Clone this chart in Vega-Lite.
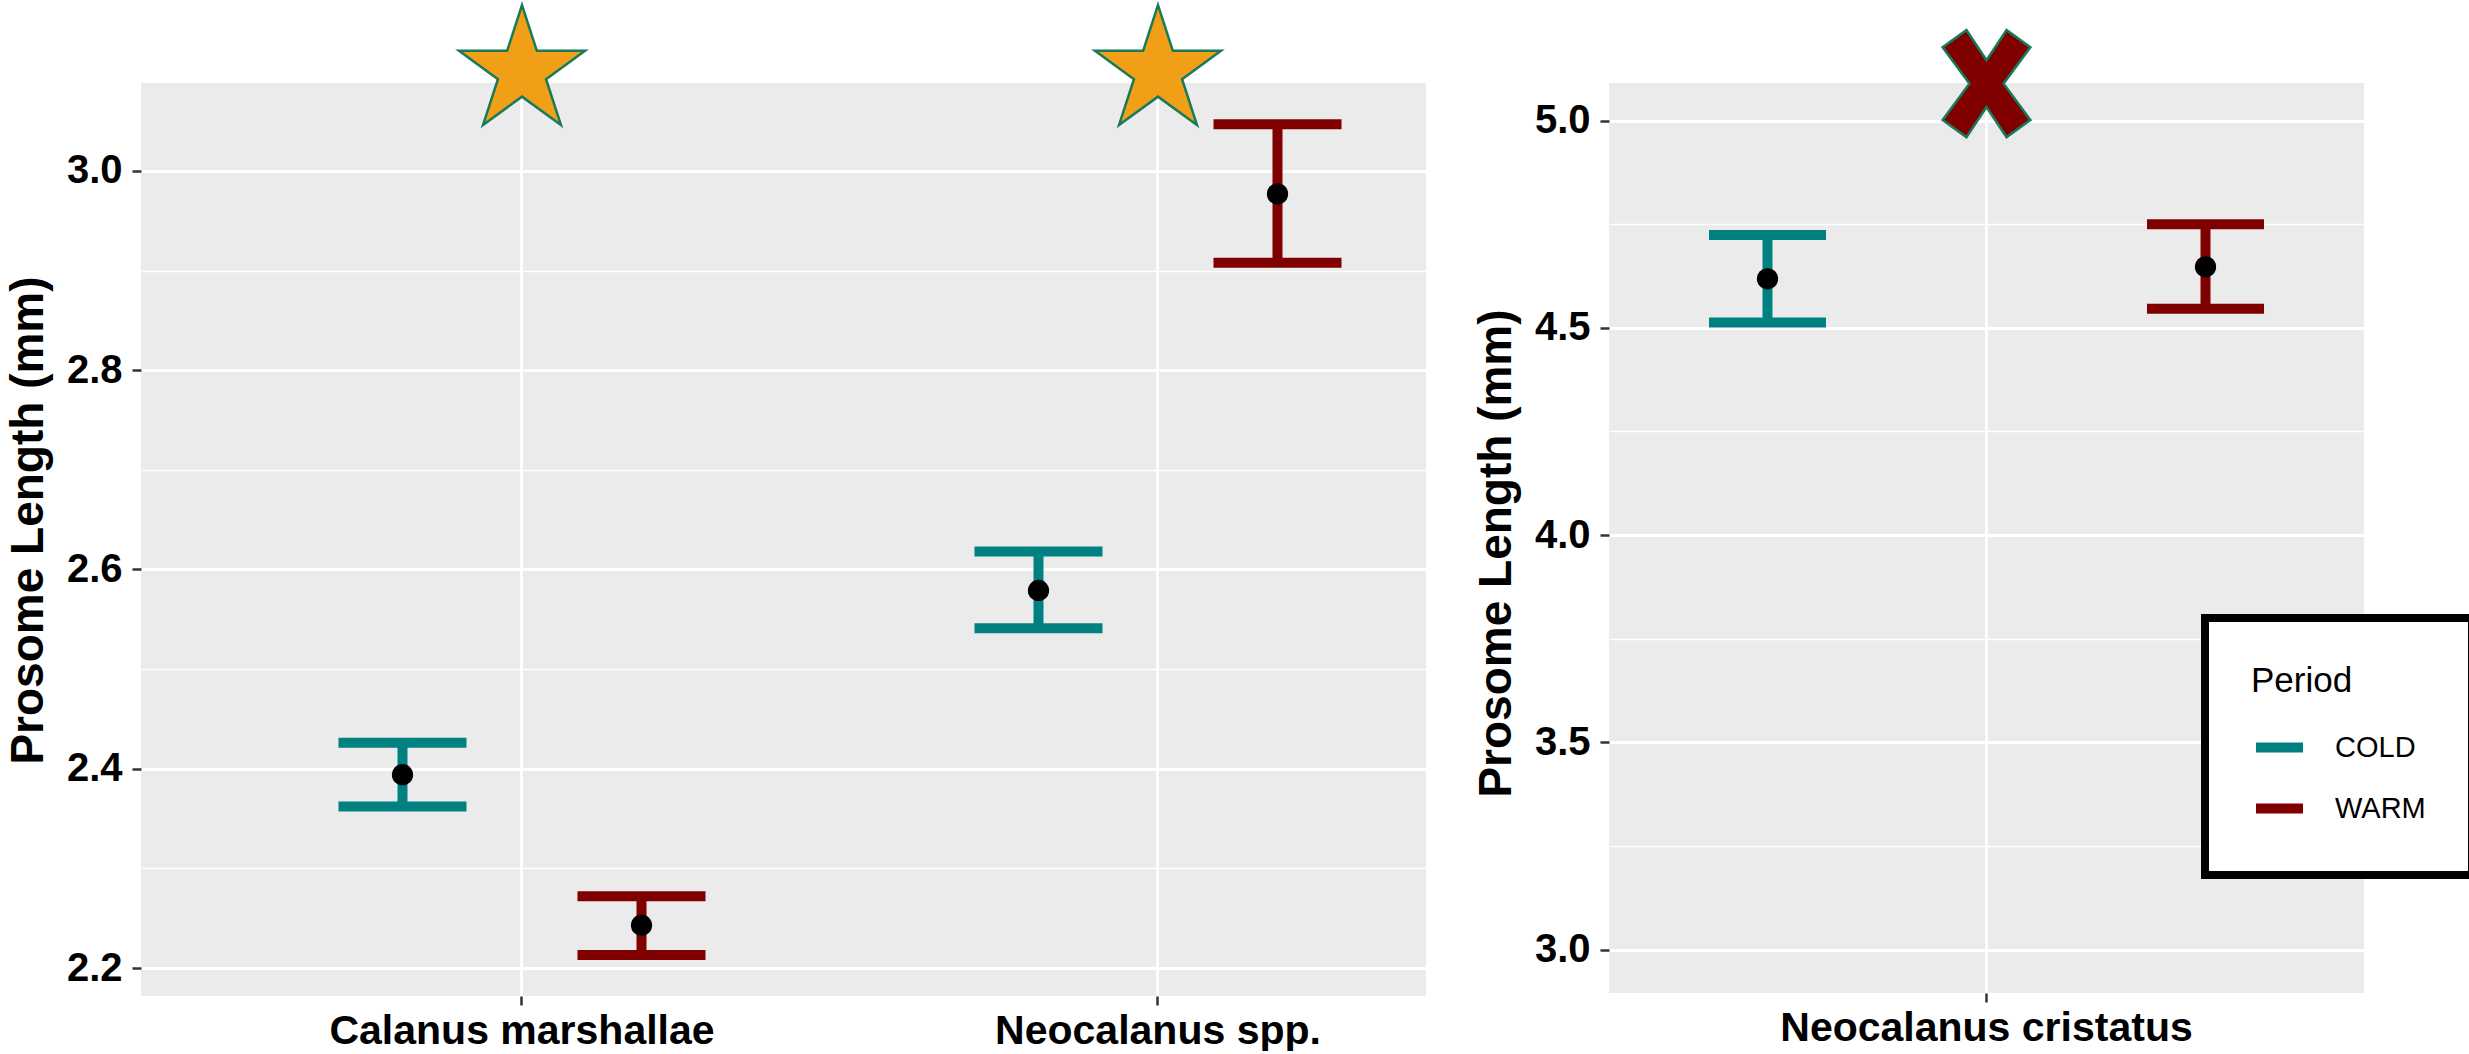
{
  "$schema": "https://vega.github.io/schema/vega-lite/v6.json",
  "padding": {"left": 5, "top": 0, "right": 0, "bottom": 0},
  "background": "white",
  "spacing": 47,
  "datasets": {
    "left": [
      {"species": "Calanus marshallae", "period": "COLD", "mean": 2.394, "lower": 2.362, "upper": 2.426},
      {"species": "Calanus marshallae", "period": "WARM", "mean": 2.243, "lower": 2.213, "upper": 2.272},
      {"species": "Neocalanus spp.", "period": "COLD", "mean": 2.579, "lower": 2.541, "upper": 2.618},
      {"species": "Neocalanus spp.", "period": "WARM", "mean": 2.977, "lower": 2.908, "upper": 3.047}
    ],
    "right": [
      {"species": "Neocalanus cristatus", "period": "COLD", "mean": 4.618, "lower": 4.513, "upper": 4.724},
      {"species": "Neocalanus cristatus", "period": "WARM", "mean": 4.647, "lower": 4.546, "upper": 4.75}
    ],
    "sigLeft": [
      {"species": "Calanus marshallae", "y": 3.1},
      {"species": "Neocalanus spp.", "y": 3.1}
    ],
    "sigRight": [
      {"species": "Neocalanus cristatus", "y": 5.089}
    ]
  },
  "config": {
    "view": {"fill": "#EBEBEB", "stroke": null},
    "axis": {
      "labelFont": "Liberation Sans", "labelFontWeight": "bold", "labelFontSize": 40, "labelColor": "black",
      "titleFont": "Liberation Sans", "titleFontWeight": "bold", "titleFontSize": 46, "titleColor": "black",
      "domain": false, "tickColor": "#333333", "tickWidth": 2.5, "tickSize": 9,
      "gridColor": "white", "gridWidth": 2.8, "gridOpacity": 1,
      "labelFlush": false, "labelOverlap": false, "labelBound": false, "labelLimit": 1000
    },
    "legend": {
      "titleFont": "Liberation Sans", "titleFontSize": 35, "titleFontWeight": "normal", "titleColor": "black",
      "labelFont": "Liberation Sans", "labelFontSize": 29, "labelColor": "black",
      "symbolType": "stroke", "symbolStrokeWidth": 10, "symbolSize": 2209, "symbolOpacity": 1,
      "labelOffset": 27, "padding": 46, "strokeColor": "black", "fillColor": "white",
      "titlePadding": 20, "rowPadding": 12
    }
  },
  "resolve": {"scale": {"color": "independent", "xOffset": "independent"}, "legend": {"color": "independent"}},
  "hconcat": [
    {
      "width": 1285,
      "height": 913,
      "encoding": {
        "x": {
          "field": "species", "type": "nominal",
          "sort": ["Calanus marshallae", "Neocalanus spp."],
          "scale": {"domain": ["Calanus marshallae", "Neocalanus spp."], "paddingInner": 0.24843, "paddingOuter": 0.134435, "align": 0.8304},
          "axis": {"title": null, "labelAngle": 0, "grid": true, "bandPosition": 0.5, "labelPadding": 6, "labelFontSize": 41}
        }
      },
      "layer": [
        {
          "data": {"name": "left"},
          "mark": {"type": "rule", "strokeWidth": 10},
          "encoding": {
            "xOffset": {"field": "period", "type": "nominal", "scale": {"domain": ["COLD", "WARM"], "paddingInner": 0, "paddingOuter": 0}},
            "y": {
              "field": "lower", "type": "quantitative",
              "scale": {"domain": [2.1719, 3.0883], "nice": false, "zero": false},
              "axis": {"title": "Prosome Length (mm)", "values": [2.2, 2.4, 2.6, 2.8, 3.0], "format": ".1f", "grid": true, "titlePadding": 14, "labelPadding": 10, "titleY": 437}
            },
            "y2": {"field": "upper"},
            "color": {"field": "period", "type": "nominal", "scale": {"domain": ["COLD", "WARM"], "range": ["#008080", "#800000"]}, "legend": null}
          }
        },
        {
          "data": {"name": "left"},
          "mark": {"type": "tick", "thickness": 10, "size": 128, "opacity": 1},
          "encoding": {
            "xOffset": {"field": "period", "type": "nominal", "scale": {"domain": ["COLD", "WARM"], "paddingInner": 0, "paddingOuter": 0}},
            "y": {"field": "upper", "type": "quantitative", "axis": null},
            "color": {"field": "period", "type": "nominal", "scale": {"domain": ["COLD", "WARM"], "range": ["#008080", "#800000"]}, "legend": null}
          }
        },
        {
          "data": {"name": "left"},
          "mark": {"type": "tick", "thickness": 10, "size": 128, "opacity": 1},
          "encoding": {
            "xOffset": {"field": "period", "type": "nominal", "scale": {"domain": ["COLD", "WARM"], "paddingInner": 0, "paddingOuter": 0}},
            "y": {"field": "lower", "type": "quantitative", "axis": {"orient": "right", "values": [2.3, 2.5, 2.7, 2.9], "labels": false, "ticks": false, "domain": false, "title": null, "grid": true, "gridWidth": 1.5}},
            "color": {"field": "period", "type": "nominal", "scale": {"domain": ["COLD", "WARM"], "range": ["#008080", "#800000"]}, "legend": null}
          }
        },
        {
          "data": {"name": "left"},
          "mark": {"type": "circle", "color": "black", "size": 452, "opacity": 1},
          "encoding": {
            "xOffset": {"field": "period", "type": "nominal", "scale": {"domain": ["COLD", "WARM"], "paddingInner": 0, "paddingOuter": 0}},
            "y": {"field": "mean", "type": "quantitative", "axis": null}
          }
        },
        {
          "data": {"name": "sigLeft"},
          "mark": {
            "type": "point", "filled": true, "opacity": 1, "size": 15876,
            "shape": "M0,-1.0515L0.2361,-0.325L1,-0.325L0.382,0.124L0.618,0.851L0,0.4017L-0.618,0.851L-0.382,0.124L-1,-0.325L-0.2361,-0.325Z",
            "fill": "#F29F18", "stroke": "#177A58", "strokeWidth": 2.5
          },
          "encoding": {
            "y": {"field": "y", "type": "quantitative", "axis": null}
          }
        }
      ],
      "resolve": {"axis": {"y": "independent"}}
    },
    {
      "width": 755,
      "height": 910,
      "encoding": {
        "x": {
          "field": "species", "type": "nominal",
          "scale": {"domain": ["Neocalanus cristatus"], "paddingInner": 0, "paddingOuter": 0},
          "axis": {"title": null, "labelAngle": 0, "grid": true, "bandPosition": 0.5, "labelPadding": 6, "labelFontSize": 41}
        }
      },
      "layer": [
        {
          "data": {"name": "right"},
          "mark": {"type": "rule", "strokeWidth": 10},
          "encoding": {
            "xOffset": {"field": "period", "type": "nominal", "scale": {"domain": ["COLD", "WARM"], "paddingInner": 0.2763, "paddingOuter": 0}},
            "y": {
              "field": "lower", "type": "quantitative",
              "scale": {"domain": [2.8951, 5.0905], "nice": false, "zero": false},
              "axis": {"title": "Prosome Length (mm)", "values": [3.0, 3.5, 4.0, 4.5, 5.0], "format": ".1f", "grid": true, "titlePadding": 14, "labelPadding": 10, "titleY": 470}
            },
            "y2": {"field": "upper"},
            "color": {"field": "period", "type": "nominal", "scale": {"domain": ["COLD", "WARM"], "range": ["#008080", "#800000"]},
              "legend": {"title": "Period", "orient": "none", "legendX": 596, "legendY": 535, "encode": {"legend": {"update": {"strokeWidth": {"value": 8}}}}}}
          }
        },
        {
          "data": {"name": "right"},
          "mark": {"type": "tick", "thickness": 10, "size": 117, "opacity": 1},
          "encoding": {
            "xOffset": {"field": "period", "type": "nominal", "scale": {"domain": ["COLD", "WARM"], "paddingInner": 0.2763, "paddingOuter": 0}},
            "y": {"field": "upper", "type": "quantitative", "axis": null},
            "color": {"field": "period", "type": "nominal", "scale": {"domain": ["COLD", "WARM"], "range": ["#008080", "#800000"]},
              "legend": {"title": "Period", "orient": "none", "legendX": 596, "legendY": 535, "encode": {"legend": {"update": {"strokeWidth": {"value": 8}}}}}}
          }
        },
        {
          "data": {"name": "right"},
          "mark": {"type": "tick", "thickness": 10, "size": 117, "opacity": 1},
          "encoding": {
            "xOffset": {"field": "period", "type": "nominal", "scale": {"domain": ["COLD", "WARM"], "paddingInner": 0.2763, "paddingOuter": 0}},
            "y": {"field": "lower", "type": "quantitative", "axis": {"orient": "right", "values": [3.25, 3.75, 4.25, 4.75], "labels": false, "ticks": false, "domain": false, "title": null, "grid": true, "gridWidth": 1.5}},
            "color": {"field": "period", "type": "nominal", "scale": {"domain": ["COLD", "WARM"], "range": ["#008080", "#800000"]},
              "legend": {"title": "Period", "orient": "none", "legendX": 596, "legendY": 535, "encode": {"legend": {"update": {"strokeWidth": {"value": 8}}}}}}
          }
        },
        {
          "data": {"name": "right"},
          "mark": {"type": "circle", "color": "black", "size": 452, "opacity": 1},
          "encoding": {
            "xOffset": {"field": "period", "type": "nominal", "scale": {"domain": ["COLD", "WARM"], "paddingInner": 0.2763, "paddingOuter": 0}},
            "y": {"field": "mean", "type": "quantitative", "axis": null}
          }
        },
        {
          "data": {"name": "sigRight"},
          "mark": {
            "type": "point", "filled": true, "opacity": 1, "size": 11449,
            "shape": "M-0.82,-0.68L-0.375,-1L0,-0.4375L0.375,-1L0.82,-0.68L0.32,0L0.82,0.68L0.375,1L0,0.4375L-0.375,1L-0.82,0.68L-0.32,0Z",
            "fill": "#800000", "stroke": "#177A58", "strokeWidth": 2.5
          },
          "encoding": {
            "y": {"field": "y", "type": "quantitative", "axis": null}
          }
        }
      ],
      "resolve": {"axis": {"y": "independent"}}
    }
  ]
}
